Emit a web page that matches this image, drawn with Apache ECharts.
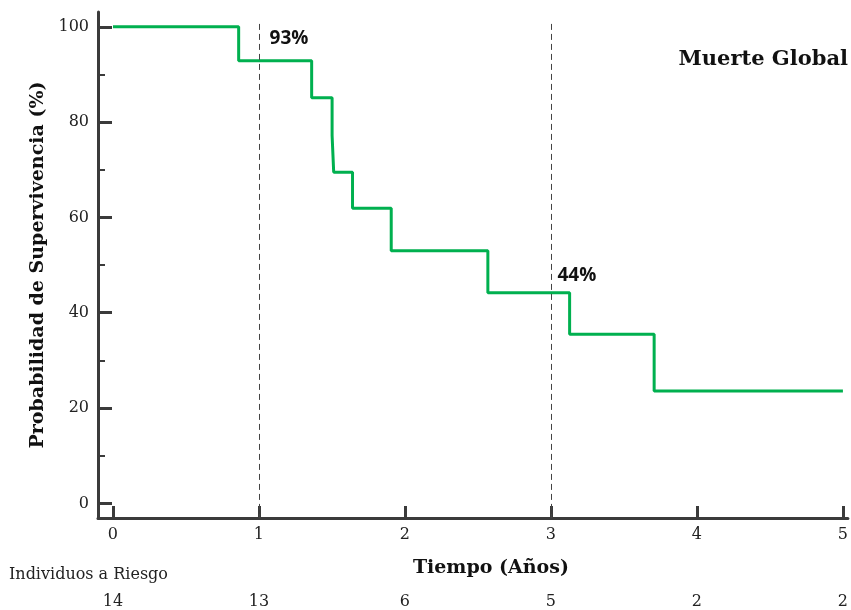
<!DOCTYPE html>
<html>
<head>
<meta charset="utf-8">
<title>Muerte Global</title>
<script src="https://cdn.jsdelivr.net/npm/echarts@6/dist/echarts.min.js"></script>
<style>
  html, body { margin: 0; padding: 0; background: #fff; }
  #chart { width: 851px; height: 610px; }
</style>
</head>
<body>
<div id="chart"></div>
<script>
// Kaplan-Meier curve
const eventYears = [0, 0.861, 1.361, 1.501, 1.512, 1.641, 1.906, 2.568, 3.128, 3.707, 5];
const survivalPct = [100, 92.86, 85.1, 77.2, 69.5, 61.9, 53.0, 44.2, 35.5, 23.6, 23.6];

// reference years with dashed lines and their labels
const refYears = [1, 3];

// axis ticks
const xTicks = [0, 1, 2, 3, 4, 5];
const yMajorTicks = [0, 20, 40, 60, 80, 100];
const yMinorTicks = [10, 30, 50, 70, 90];

// individuos a riesgo under each year tick
const atRisk = [14, 13, 6, 5, 2, 2];

const AXIS = "#3b3b3b";
const GREEN = "#00b04f";
const SERIF = "DejaVu Serif";

// survival value at a given year (step function)
const survivalAt = (t) => {
  let s = survivalPct[0];
  eventYears.forEach((x, i) => { if (x <= t) s = survivalPct[i]; });
  return s;
};

const X_MIN = -0.1025, X_MAX = 5.034;
const Y_MIN = -3.07, Y_MAX = 103.1;

const chart = echarts.init(document.getElementById("chart"));

const option = {
  animation: false,
  title: [
    {
      text: "Muerte Global",
      right: 3,
      top: 49,
      padding: 0,
      textStyle: { fontFamily: SERIF, fontWeight: "bold", fontSize: 21, color: "#111" },
    },
    {
      text: "Individuos a Riesgo",
      left: 9,
      top: 567,
      padding: 0,
      textStyle: { fontFamily: SERIF, fontWeight: "normal", fontSize: 16, color: "#222" },
    },
  ],
  grid: { left: 98, right: 1, top: 12, bottom: 90 },
  xAxis: [
    {
      type: "value",
      min: X_MIN,
      max: X_MAX,
      splitLine: { show: false },
      axisLine: { show: true, onZero: false, lineStyle: { color: AXIS, width: 3 } },
      axisTick: { show: true, inside: true, length: 12, customValues: xTicks, lineStyle: { color: AXIS, width: 3 } },
      axisLabel: { customValues: xTicks, margin: 9, fontFamily: SERIF, fontSize: 16, color: "#222" },
      name: "Tiempo (Años)",
      nameLocation: "middle",
      nameGap: 41,
      nameTextStyle: { fontFamily: SERIF, fontWeight: "bold", fontSize: 19, color: "#111", padding: [0, 0, 0, 36] },
    },
    {
      type: "value",
      position: "bottom",
      offset: 67,
      min: X_MIN,
      max: X_MAX,
      splitLine: { show: false },
      axisLine: { show: false, onZero: false },
      axisTick: { show: false },
      axisLabel: {
        customValues: xTicks,
        margin: 9,
        fontFamily: SERIF,
        fontSize: 16,
        color: "#222",
        formatter: (v) => String(atRisk[xTicks.indexOf(Math.round(v))]),
      },
    },
  ],
  yAxis: [
    {
      type: "value",
      position: "left",
      min: Y_MIN,
      max: Y_MAX,
      splitLine: { show: false },
      axisLine: { show: true, onZero: false, lineStyle: { color: AXIS, width: 3 } },
      axisTick: { show: true, inside: true, length: 14, customValues: yMajorTicks, lineStyle: { color: AXIS, width: 3 } },
      axisLabel: { customValues: yMajorTicks, margin: 9, fontFamily: SERIF, fontSize: 16, color: "#222" },
      name: "Probabilidad de Supervivencia (%)",
      nameLocation: "middle",
      nameRotate: 90,
      nameGap: 42,
      nameTextStyle: { fontFamily: SERIF, fontWeight: "bold", fontSize: 19, color: "#111" },
    },
    {
      type: "value",
      position: "left",
      min: Y_MIN,
      max: Y_MAX,
      splitLine: { show: false },
      axisLine: { show: false, onZero: false },
      axisTick: { show: true, inside: true, length: 7, customValues: yMinorTicks, lineStyle: { color: AXIS, width: 2 } },
      axisLabel: { show: false },
    },
  ],
  series: [
    {
      type: "line",
      step: "end",
      showSymbol: false,
      data: eventYears.map((t, i) => [t, survivalPct[i]]),
      lineStyle: { color: GREEN, width: 3 },
      itemStyle: { color: GREEN },
      z: 3,
      markLine: {
        silent: true,
        symbol: "none",
        animation: false,
        label: { show: false },
        lineStyle: { color: "#444", width: 1, type: [6, 4] },
        data: refYears.map((y) => [{ coord: [y, 100.6] }, { coord: [y, Y_MIN] }]),
      },
      markPoint: {
        silent: true,
        symbol: "circle",
        symbolSize: 0,
        data: refYears.map((y, i) => ({
          coord: [y, survivalAt(y)],
          label: {
            show: true,
            formatter: Math.round(survivalAt(y)) + "%",
            position: "inside",
            offset: i === 0 ? [30, -22] : [26, -17],
            fontFamily: "Open Sans",
            fontWeight: "bold",
            fontSize: 19,
            color: "#111",
          },
        })),
      },
    },
  ],
};

chart.setOption(option);
</script>
</body>
</html>
